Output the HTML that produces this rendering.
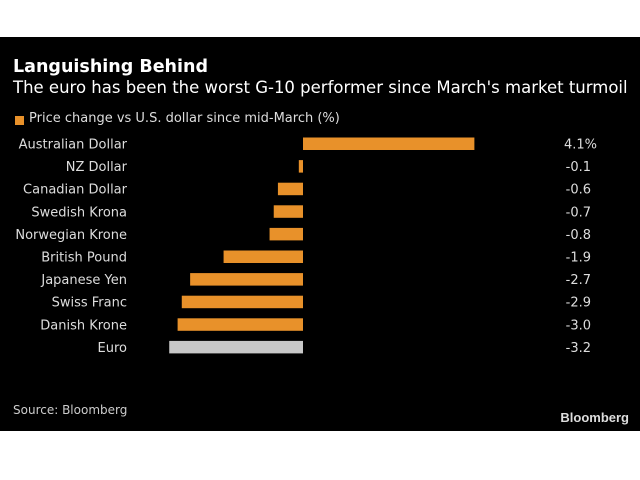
<!DOCTYPE html>
<html><head><meta charset="utf-8"><style>
body{margin:0;width:640px;height:480px;background:#fff;overflow:hidden;font-family:"DejaVu Sans","Liberation Sans",sans-serif}
#panel{position:absolute;left:0;top:37px;width:640px;height:394px;background:#000}
.t{position:absolute;color:#fff;white-space:nowrap}
</style></head><body>
<div id="panel"></div>
<div class="t" style="left:13px;top:57px;font-size:17.5px;font-weight:bold">Languishing Behind</div>
<div class="t" style="left:13px;top:78px;font-size:16.5px">The euro has been the worst G-10 performer since March's market turmoil</div>
<div style="position:absolute;left:15px;top:116px;width:9px;height:9px;background:#e8912a"></div>
<div class="t" style="left:29px;top:111px;font-size:13px;color:#ddd">Price change vs U.S. dollar since mid-March (%)</div>
<svg id="c" width="640" height="480" style="position:absolute;left:0;top:0"></svg>
<div class="t" style="left:13px;top:403px;font-size:12px;color:#ccc">Source: Bloomberg</div>
<div class="t" style="right:11px;top:410px;font-size:13px;font-weight:bold;color:#ddd;font-family:'Liberation Sans',sans-serif">Bloomberg</div>
<script>
const categories=["Australian Dollar","NZ Dollar","Canadian Dollar","Swedish Krona","Norwegian Krone","British Pound","Japanese Yen","Swiss Franc","Danish Krone","Euro"];
const values=[4.1,-0.1,-0.6,-0.7,-0.8,-1.9,-2.7,-2.9,-3.0,-3.2];
const valueLabels=["4.1%","-0.1","-0.6","-0.7","-0.8","-1.9","-2.7","-2.9","-3.0","-3.2"];
const svg=document.getElementById('c');const NS='http://www.w3.org/2000/svg';
const x=v=>303+v*41.8;const y=i=>137.5+i*22.6;
categories.forEach((c,i)=>{
 const r=document.createElementNS(NS,'rect');
 
 
 const a=x(Math.min(0,values[i])),b=x(Math.max(0,values[i]));
 r.setAttribute('x',a);r.setAttribute('y',y(i));r.setAttribute('width',b-a);r.setAttribute('height',12.5);
 r.setAttribute('fill',c==='Euro'?'#c8c8c8':'#e8912a');svg.appendChild(r);
 const t=document.createElementNS(NS,'text');
 
 
 t.setAttribute('x',127);t.setAttribute('y',y(i)+11);t.setAttribute('text-anchor','end');
 t.setAttribute('fill','#ddd');t.setAttribute('font-size','13');t.textContent=c;svg.appendChild(t);
 const v=document.createElementNS(NS,'text');
 
 
 v.setAttribute('x',i===0?597:591);v.setAttribute('y',y(i)+11);v.setAttribute('text-anchor','end');
 v.setAttribute('fill','#ddd');v.setAttribute('font-size','13');v.textContent=valueLabels[i];svg.appendChild(v);
});
</script>
</body></html>
